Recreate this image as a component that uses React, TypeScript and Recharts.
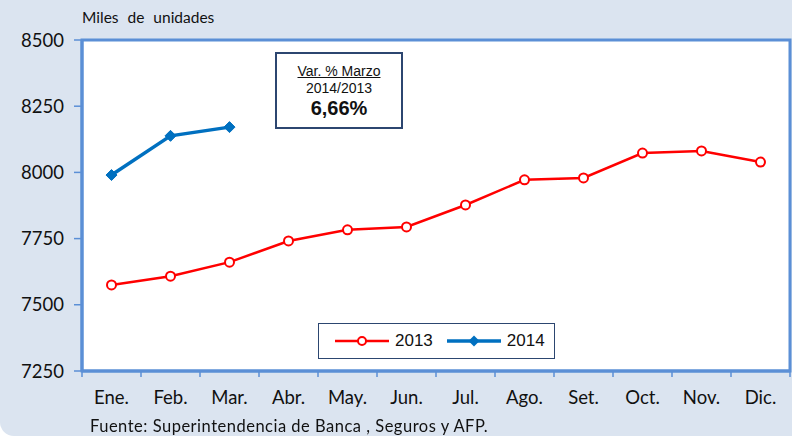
import { LineChart, Line, XAxis, YAxis, ReferenceArea } from "recharts";

const months = ["Ene.", "Feb.", "Mar.", "Abr.", "May.", "Jun.", "Jul.", "Ago.", "Set.", "Oct.", "Nov.", "Dic."];
const y2013 = [7575, 7608, 7661, 7741, 7783, 7794, 7877, 7972, 7979, 8073, 8081, 8039];
const y2014: (number | null)[] = [7990, 8138, 8171, null, null, null, null, null, null, null, null, null];
const yTicks = [7250, 7500, 7750, 8000, 8250, 8500];

const data = months.map((m, i) => ({ m, a: y2013[i], b: y2014[i] }));

const FONT = "Lato, 'Open Sans', sans-serif";
const BLUE_AXIS = "#5b8fd6";

function MonthTick(props: any) {
  const { x, y, payload, width, visibleTicksCount } = props;
  const half = width / visibleTicksCount / 2;
  const axisY = y - 19;
  const last = payload.index === visibleTicksCount - 1;
  return (
    <g>
      <line x1={x - half} x2={x - half} y1={axisY} y2={axisY + 6} stroke={BLUE_AXIS} strokeWidth={1.5} />
      {last && <line x1={x + half} x2={x + half} y1={axisY} y2={axisY + 6} stroke={BLUE_AXIS} strokeWidth={1.5} />}
      <text x={x} y={y + 1} dy="0.71em" textAnchor="middle" fontSize={18.5} fontFamily={FONT} fill="#111">
        {payload.value}
      </text>
    </g>
  );
}

function Diamond(props: any) {
  const { cx, cy, index } = props;
  if (cx == null || cy == null) return <g key={index} />;
  const r = 5.5;
  return (
    <polygon
      key={index}
      points={`${cx},${cy - r} ${cx + r},${cy} ${cx},${cy + r} ${cx - r},${cy}`}
      fill="#0070c0"
      stroke="#0070c0"
    />
  );
}

function LegendBox() {
  return (
    <div
      style={{
        position: "absolute",
        left: 318,
        top: 323,
        border: "1px solid #2c4670",
        background: "#fff",
        width: 237,
        height: 36,
        display: "flex",
        alignItems: "center",
        fontFamily: "Arial, 'Liberation Sans', sans-serif",
        fontSize: 17,
        color: "#111",
        boxSizing: "border-box",
      }}
    >
      <svg width={56} height={20} style={{ marginLeft: 16 }}>
        <line x1={0} x2={54} y1={10} y2={10} stroke="#ff0000" strokeWidth={2.5} />
        <circle cx={27} cy={10} r={4} fill="#fff" stroke="#ff0000" strokeWidth={2} />
      </svg>
      <span style={{ marginLeft: 4 }}>2013</span>
      <svg width={56} height={20} style={{ marginLeft: 14 }}>
        <line x1={0} x2={54} y1={10} y2={10} stroke="#0070c0" strokeWidth={3.5} />
        <polygon points="27,4.5 32.5,10 27,15.5 21.5,10" fill="#0070c0" />
      </svg>
      <span style={{ marginLeft: 4 }}>2014</span>
    </div>
  );
}

export default function App() {
  return (
    <div
      style={{
        position: "fixed",
        left: 0,
        top: 0,
        width: 792,
        height: 436,
        background: "#dbe4f0",
        borderBottomLeftRadius: 14,
        overflow: "hidden",
      }}
    >
      <div style={{ position: "absolute", left: 82, top: 8, fontFamily: FONT, fontSize: 15.5, wordSpacing: 5, color: "#111" }}>
        Miles de unidades
      </div>
      <LineChart width={792} height={436} data={data} margin={{ top: 40, right: 2, left: 0, bottom: 0 }}>
        <ReferenceArea y1={7250} y2={8500} fill="#fff" fillOpacity={1} stroke={BLUE_AXIS} strokeWidth={3} />
        <XAxis
          dataKey="m"
          scale="band"
          height={65}
          tickLine={false}
          tickSize={5}
          tickMargin={14}
          axisLine={{ stroke: BLUE_AXIS, strokeWidth: 3 }}
          tick={<MonthTick />}
          interval={0}
        />
        <YAxis
          width={82}
          domain={[7250, 8500]}
          ticks={yTicks}
          allowDataOverflow
          tickSize={8}
          tickMargin={10}
          tickLine={{ stroke: BLUE_AXIS, strokeWidth: 1.5 }}
          axisLine={{ stroke: BLUE_AXIS, strokeWidth: 3 }}
          tick={{ fontSize: 18.5, fontFamily: FONT, fill: "#111" }}
        />
        <Line
          dataKey="a"
          name="2013"
          stroke="#ff0000"
          strokeWidth={2.5}
          dot={{ r: 4.5, fill: "#fff", stroke: "#ff0000", strokeWidth: 2 }}
          isAnimationActive={false}
        />
        <Line
          dataKey="b"
          name="2014"
          stroke="#0070c0"
          strokeWidth={3.5}
          dot={<Diamond />}
          connectNulls={false}
          isAnimationActive={false}
        />
      </LineChart>
      <LegendBox />
      <div
        style={{
          position: "absolute",
          left: 275,
          top: 52,
          width: 128,
          height: 77,
          boxSizing: "border-box",
          border: "2px solid #2c4670",
          background: "#fff",
          textAlign: "center",
          fontFamily: "Arial, 'Liberation Sans', sans-serif",
          color: "#111",
        }}
      >
        <div style={{ fontSize: 14, marginTop: 9, lineHeight: "17px", textDecoration: "underline" }}>Var. % Marzo</div>
        <div style={{ fontSize: 14, lineHeight: "17px" }}>2014/2013</div>
        <div style={{ fontSize: 20, fontWeight: "bold", lineHeight: "23px" }}>6,66%</div>
      </div>
      <div style={{ position: "absolute", left: 90, top: 416, fontFamily: FONT, fontSize: 16.5, letterSpacing: 0.5, color: "#111" }}>
        Fuente: Superintendencia de Banca , Seguros y AFP.
      </div>
    </div>
  );
}
